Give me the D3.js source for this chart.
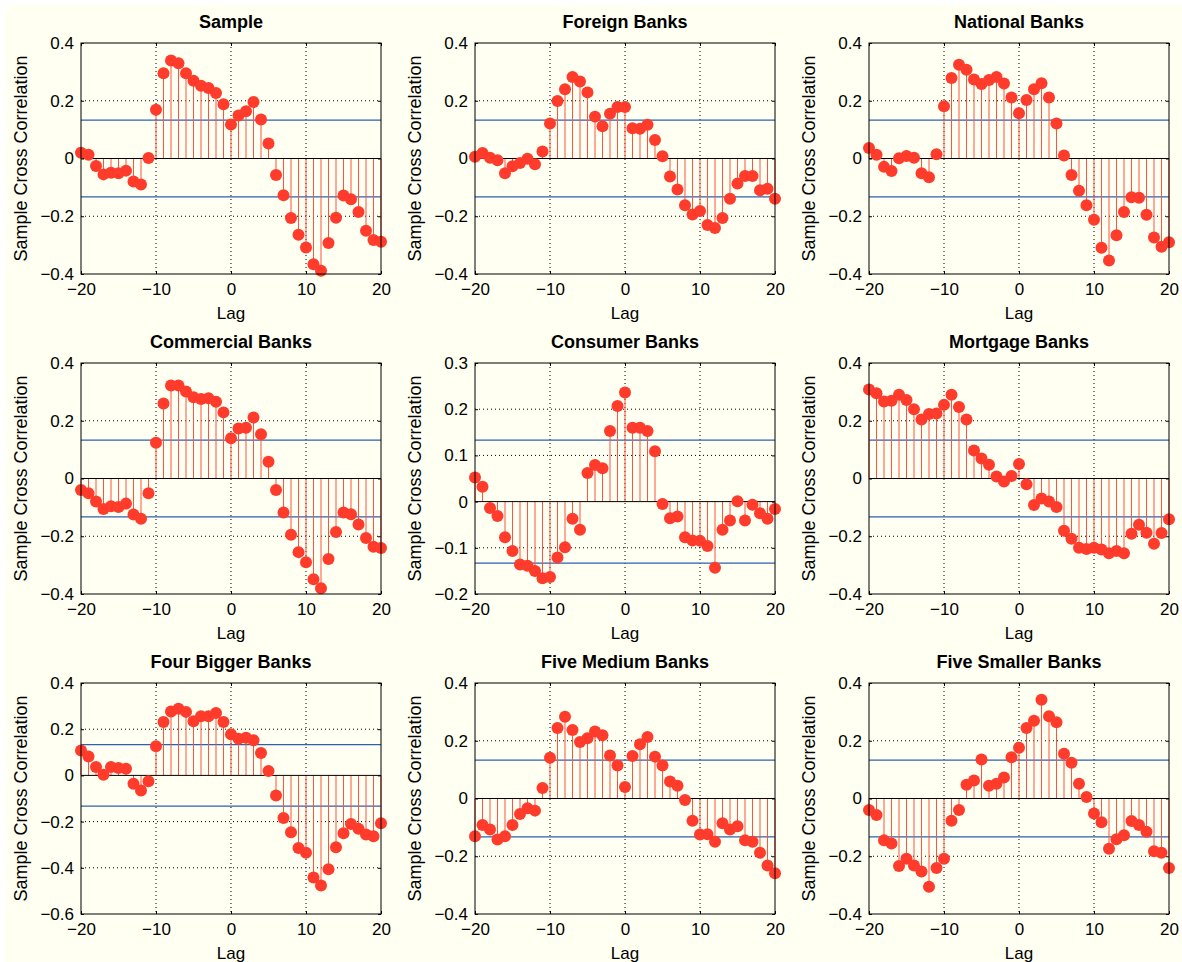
<!DOCTYPE html>
<html>
<head>
  <meta charset="utf-8">
  <title>Sample Cross Correlation</title>
  <script src="https://d3js.org/d3.v7.min.js"></script>
  <style>
    body { margin: 0; background: #fff; }
    text { font-family: "Liberation Sans", Arial, Helvetica, sans-serif; fill: #000; }
    .title { font-size: 18px; font-weight: bold; }
    .tick text { font-size: 17px; }
    .label { font-size: 17px; }
    .ylabel { font-size: 18px; }
  </style>
</head>
<body>
<div id="chart"></div>
<script>
  // lags -20..20
  const lags = d3.range(-20, 21);

  const titles = ["Sample", "Foreign Banks", "National Banks",
                  "Commercial Banks", "Consumer Banks", "Mortgage Banks",
                  "Four Bigger Banks", "Five Medium Banks", "Five Smaller Banks"];

  const sample = [0.020, 0.013, -0.026, -0.055, -0.049, -0.051, -0.042, -0.080, -0.090, 0.002,
    0.169, 0.295, 0.339, 0.330, 0.295, 0.269, 0.252, 0.244, 0.227, 0.188,
    0.118, 0.149, 0.164, 0.196, 0.135, 0.052, -0.057, -0.127, -0.206, -0.264,
    -0.308, -0.366, -0.389, -0.293, -0.205, -0.128, -0.141, -0.185, -0.250, -0.282, -0.288];

  const foreign = [0.006, 0.019, 0.003, -0.006, -0.051, -0.027, -0.016, -0.001, -0.020, 0.024,
    0.121, 0.199, 0.240, 0.282, 0.267, 0.229, 0.145, 0.112, 0.155, 0.178,
    0.178, 0.105, 0.103, 0.117, 0.064, 0.008, -0.062, -0.107, -0.162, -0.194,
    -0.182, -0.230, -0.241, -0.206, -0.139, -0.087, -0.061, -0.061, -0.110, -0.105, -0.139];

  const national = [0.036, 0.013, -0.029, -0.043, 0.001, 0.009, 0.003, -0.051, -0.065, 0.015,
    0.181, 0.279, 0.325, 0.307, 0.274, 0.258, 0.272, 0.282, 0.260, 0.211,
    0.157, 0.203, 0.240, 0.261, 0.211, 0.121, 0.010, -0.057, -0.112, -0.162,
    -0.212, -0.309, -0.353, -0.266, -0.185, -0.134, -0.136, -0.195, -0.274, -0.306, -0.290];

  const commercial = [-0.040, -0.051, -0.080, -0.106, -0.096, -0.099, -0.087, -0.125, -0.139, -0.051,
    0.124, 0.260, 0.322, 0.322, 0.301, 0.281, 0.275, 0.278, 0.266, 0.229,
    0.139, 0.173, 0.176, 0.211, 0.153, 0.058, -0.040, -0.118, -0.195, -0.255,
    -0.290, -0.349, -0.380, -0.279, -0.185, -0.118, -0.124, -0.159, -0.206, -0.236, -0.241];

  const consumer = [0.052, 0.032, -0.014, -0.031, -0.077, -0.107, -0.136, -0.139, -0.150, -0.166,
    -0.163, -0.121, -0.099, -0.037, -0.061, 0.062, 0.079, 0.072, 0.153, 0.207,
    0.236, 0.160, 0.160, 0.153, 0.109, -0.005, -0.036, -0.032, -0.077, -0.084,
    -0.085, -0.096, -0.143, -0.061, -0.041, 0.001, -0.041, -0.007, -0.025, -0.037, -0.016];

  const mortgage = [0.308, 0.295, 0.267, 0.269, 0.290, 0.272, 0.240, 0.204, 0.223, 0.225,
    0.255, 0.290, 0.248, 0.204, 0.097, 0.069, 0.048, 0.007, -0.010, 0.009,
    0.050, -0.020, -0.092, -0.069, -0.080, -0.099, -0.181, -0.209, -0.240, -0.244,
    -0.240, -0.246, -0.259, -0.251, -0.259, -0.191, -0.160, -0.188, -0.226, -0.189, -0.141];

  const fourBigger = [0.108, 0.082, 0.036, 0.003, 0.036, 0.032, 0.029, -0.036, -0.065, -0.025,
    0.126, 0.231, 0.277, 0.289, 0.275, 0.234, 0.256, 0.256, 0.270, 0.231,
    0.178, 0.159, 0.163, 0.152, 0.097, 0.019, -0.087, -0.184, -0.246, -0.314,
    -0.335, -0.442, -0.477, -0.406, -0.311, -0.250, -0.210, -0.231, -0.256, -0.263, -0.207];

  const fiveMedium = [-0.131, -0.092, -0.107, -0.142, -0.131, -0.092, -0.054, -0.034, -0.042, 0.036,
    0.141, 0.244, 0.283, 0.237, 0.196, 0.209, 0.232, 0.219, 0.149, 0.114,
    0.040, 0.147, 0.188, 0.213, 0.145, 0.114, 0.059, 0.044, -0.005, -0.077,
    -0.125, -0.124, -0.150, -0.086, -0.107, -0.096, -0.145, -0.150, -0.188, -0.232, -0.259];

  const fiveSmaller = [-0.040, -0.057, -0.145, -0.156, -0.234, -0.209, -0.232, -0.253, -0.306, -0.241,
    -0.209, -0.077, -0.040, 0.048, 0.062, 0.135, 0.044, 0.051, 0.073, 0.143,
    0.176, 0.244, 0.269, 0.342, 0.285, 0.264, 0.155, 0.124, 0.051, 0.005,
    -0.052, -0.082, -0.174, -0.141, -0.127, -0.078, -0.092, -0.115, -0.183, -0.188, -0.241];

  const series = [sample, foreign, national, commercial, consumer, mortgage, fourBigger, fiveMedium, fiveSmaller];

  const yDomains = [[-0.4, 0.4], [-0.4, 0.4], [-0.4, 0.4],
                    [-0.4, 0.4], [-0.2, 0.3], [-0.4, 0.4],
                    [-0.6, 0.4], [-0.4, 0.4], [-0.4, 0.4]];
  const yTickSteps = [0.2, 0.2, 0.2, 0.2, 0.1, 0.2, 0.2, 0.2, 0.2];
  const xTicks = [-20, -10, 0, 10, 20];
  const bound = 0.133; // confidence bounds

  const width = 1182, height = 962;
  const colLeft = [81, 475, 869];
  const rowTop = [43, 363, 683];
  const pw = 300, ph = 231;
  const red = "#ff3b2b", stemRed = "#ff5242", blue = "#2f5fae";

  const fmt = v => {
    const s = d3.format("~g")(+v.toFixed(2));
    return s.replace("-", "\u2212");
  };

  const svg = d3.select("#chart").append("svg")
    .attr("width", width)
    .attr("height", height);

  svg.append("rect")
    .attr("x", 5).attr("y", 5)
    .attr("width", width - 5).attr("height", height - 5)
    .attr("fill", "#fffff2");

  series.forEach((vals, i) => {
    const g = svg.append("g")
      .attr("transform", `translate(${colLeft[i % 3]},${rowTop[Math.floor(i / 3)]})`);

    const x = d3.scaleLinear().domain([-20, 20]).range([0, pw]);
    const y = d3.scaleLinear().domain(yDomains[i]).range([ph, 0]);

    const step = yTickSteps[i];
    const yTicks = d3.range(Math.round(yDomains[i][0] / step), Math.round(yDomains[i][1] / step) + 1)
      .map(k => +(k * step).toFixed(2));

    // dotted grid (inner lines only)
    g.append("g").selectAll("line")
      .data(xTicks.filter(t => t > -20 && t < 20))
      .join("line")
      .attr("x1", d => x(d)).attr("x2", d => x(d))
      .attr("y1", 0).attr("y2", ph)
      .attr("stroke", "#000").attr("stroke-width", 1)
      .attr("stroke-dasharray", "1,3");
    g.append("g").selectAll("line")
      .data(yTicks.filter(t => t > yDomains[i][0] && t < yDomains[i][1] && t !== 0))
      .join("line")
      .attr("x1", 0).attr("x2", pw)
      .attr("y1", d => y(d)).attr("y2", d => y(d))
      .attr("stroke", "#000").attr("stroke-width", 1)
      .attr("stroke-dasharray", "1,3");

    // axes with inward ticks
    const xAxis = g.append("g")
      .attr("transform", `translate(0,${ph})`)
      .call(d3.axisBottom(x).tickValues(xTicks).tickSize(-3).tickPadding(9).tickFormat(fmt));
    g.append("g")
      .call(d3.axisLeft(y).tickValues(yTicks).tickSize(-3).tickPadding(7).tickFormat(fmt));
    g.append("g")
      .call(d3.axisTop(x).tickValues(xTicks).tickSize(-3).tickFormat(""));
    g.append("g")
      .attr("transform", `translate(${pw},0)`)
      .call(d3.axisRight(y).tickValues(yTicks).tickSize(-3).tickFormat(""));
    g.selectAll(".domain").remove();
    g.selectAll(".tick line").attr("stroke", "#000");
    xAxis.selectAll("text").attr("dy", "0.71em");

    // confidence bounds
    g.append("g").selectAll("line")
      .data([bound, -bound])
      .join("line")
      .attr("x1", 0).attr("x2", pw)
      .attr("y1", d => y(d)).attr("y2", d => y(d))
      .attr("stroke", blue).attr("stroke-width", 1.2);

    // stems
    g.append("g").selectAll("line")
      .data(vals)
      .join("line")
      .attr("x1", (d, j) => x(lags[j])).attr("x2", (d, j) => x(lags[j]))
      .attr("y1", y(0)).attr("y2", d => y(d))
      .attr("stroke", stemRed).attr("stroke-width", 1);

    // zero line
    g.append("line")
      .attr("x1", 0).attr("x2", pw)
      .attr("y1", y(0)).attr("y2", y(0))
      .attr("stroke", "#000").attr("stroke-width", 1);

    // markers
    g.append("g").selectAll("circle")
      .data(vals)
      .join("circle")
      .attr("cx", (d, j) => x(lags[j]))
      .attr("cy", d => y(d))
      .attr("r", 6)
      .attr("fill", red);

    // box
    g.append("rect")
      .attr("width", pw).attr("height", ph)
      .attr("fill", "none").attr("stroke", "#000").attr("stroke-width", 1);

    g.append("text")
      .attr("class", "title")
      .attr("x", pw / 2).attr("y", -15)
      .attr("text-anchor", "middle")
      .text(titles[i]);

    g.append("text")
      .attr("class", "label")
      .attr("x", pw / 2).attr("y", ph + 45)
      .attr("text-anchor", "middle")
      .text("Lag");

    g.append("text")
      .attr("class", "ylabel")
      .attr("text-anchor", "middle")
      .attr("transform", `translate(-54,${ph / 2}) rotate(-90)`)
      .text("Sample Cross Correlation");
  });
</script>
</body>
</html>
